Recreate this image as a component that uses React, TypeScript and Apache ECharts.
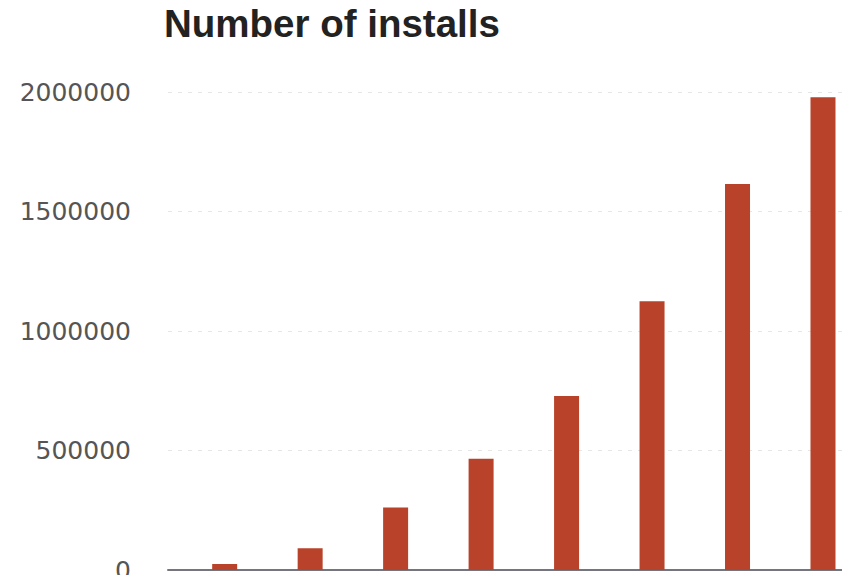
import React, { useEffect, useRef } from "react";
import * as echarts from "echarts";

// Installs per period, oldest first (no period labels are shown on the axis)
const periods = [1, 2, 3, 4, 5, 6, 7, 8];
const installs = [25000, 91000, 262000, 466000, 728000, 1124000, 1615000, 1978000];
const yTicks = [0, 500000, 1000000, 1500000, 2000000];

export default function App() {
  const ref = useRef<HTMLDivElement>(null);

  useEffect(() => {
    if (!ref.current) return;
    const chart = echarts.init(ref.current, undefined, { renderer: "svg" });
    chart.setOption({
      animation: false,
      backgroundColor: "#ffffff",
      title: {
        text: "Number of installs",
        left: 164,
        top: 4,
        padding: 0,
        textStyle: {
          fontFamily: "Liberation Sans, Arial, sans-serif",
          fontWeight: "bold",
          fontSize: 38.5,
          color: "#222222",
        },
      },
      grid: { left: 168, right: 0, top: 92, bottom: 13, containLabel: false },
      xAxis: {
        type: "value",
        min: 0.337,
        max: 8.316,
        axisLine: { show: true, lineStyle: { color: "#75757d", width: 2 } },
        axisTick: { show: false },
        axisLabel: { show: false },
        splitLine: { show: false },
      },
      yAxis: {
        type: "value",
        min: yTicks[0],
        max: yTicks[yTicks.length - 1],
        interval: yTicks[1] - yTicks[0],
        axisLine: { show: false },
        axisTick: { show: false },
        axisLabel: {
          margin: 37,
          fontFamily: "DejaVu Sans, sans-serif",
          fontSize: 25,
          lineHeight: 19,
          color: "#555555",
          formatter: (v: number) => String(v),
        },
        splitLine: {
          show: true,
          lineStyle: { color: "#e6e6e6", type: [4, 6], width: 1 },
        },
      },
      series: [
        {
          type: "bar",
          data: periods.map((p, i) => [p, installs[i]]),
          barWidth: 25,
          itemStyle: { color: "#b8432a" },
        },
      ],
    });
    return () => chart.dispose();
  }, []);

  return <div ref={ref} style={{ width: 850, height: 583, margin: -8 }} />;
}
